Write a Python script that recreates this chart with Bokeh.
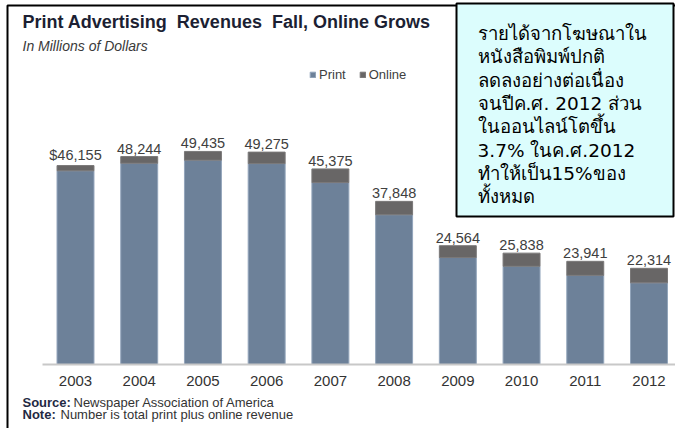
from bokeh.plotting import figure
from bokeh.models import Label, BoxAnnotation, ColumnDataSource, Range1d
from bokeh.core.properties import value
from bokeh.embed import file_html
from bokeh.resources import INLINE

# ---- data ----
years = [2003, 2004, 2005, 2006, 2007, 2008, 2009, 2010, 2011, 2012]
year_labels = [str(y) for y in years]
print_rev = [44939, 46703, 47408, 46611, 42209, 34740, 24821, 22795, 20692, 18944]
online_rev = [1216, 1541, 2027, 2664, 3166, 3108, 2743, 3043, 3249, 3370]
total_labels = [46155, 48244, 49435, 49275, 45375, 37848, 24564, 25838, 23941, 22314]
series = ["Print", "Online"]
title_text = "Print Advertising \u00a0Revenues \u00a0Fall, Online Grows"
subtitle_text = "In Millions of Dollars"
thai_lines = [
    "รายได้จากโฆษณาใน",
    "หนังสือพิมพ์ปกติ",
    "ลดลงอย่างต่อเนื่อง",
    "จนปีค.ศ. 2012 ส่วน",
    "ในออนไลน์โตขึ้น",
    "3.7% ในค.ศ.2012",
    "ทำให้เป็น15%ของ",
    "ทั้งหมด",
]

labels = [("$" if i == 0 else "") + f"{v:,}" for i, v in enumerate(total_labels)]
totals = [p_ + o_ for p_, o_ in zip(print_rev, online_rev)]
src = ColumnDataSource(dict(year=years, Print=print_rev, Online=online_rev,
                            total=totals, label=labels, ylab=year_labels,
                            zero=[0] * len(years)))

W, H = 675, 428
FONT = "Liberation Sans"
THAI = "'DejaVu Sans', sans-serif"

p = figure(width=W, height=H, output_backend="svg", toolbar_location=None,
           x_range=Range1d(2001.823, 2012.416), y_range=Range1d(-14850, 84455),
           min_border=0)
p.outline_line_color = None
p.grid.visible = False
p.axis.visible = False

print_color = "#6d8199"
online_color = "#686666"
p.vbar_stack(series, x="year", width=0.58, source=src,
             fill_color=[print_color, online_color],
             line_color=["#93a5bb", "#7a7878"], line_width=1,
             legend_label=series)

# baseline (at data y = 0)
p.add_layout(BoxAnnotation(left=42, right=760, left_units="screen", right_units="screen",
                           top=0, bottom=0, fill_alpha=0,
                           line_color="#c8c8c8", line_alpha=1, line_width=2))

# value labels
p.text(x="year", y="total", text="label", source=src, text_align="center",
       text_baseline="bottom", y_offset=-3, text_font=value(FONT),
       text_font_size="14.5px", text_color="#404040")

# category labels
p.text(x="year", y="zero", text="ylab", source=src, text_align="center",
       text_baseline="middle", y_offset=17, text_font=value(FONT),
       text_font_size="15px", text_color="#333333")


def sx(px):
    return px


def sy(py):
    return H - py


def lab(text, px, py, size, color, style="normal", font=FONT, align="left"):
    p.add_layout(Label(x=sx(px), y=sy(py), x_units="screen", y_units="screen",
                       text=text, text_font=font, text_font_size=size,
                       text_color=color, text_font_style=style,
                       text_align=align, text_baseline="middle"))


# outer frame lines
p.add_layout(BoxAnnotation(left=sx(7), right=sx(760), top=sy(5), bottom=sy(600),
                           left_units="screen", right_units="screen",
                           top_units="screen", bottom_units="screen",
                           fill_alpha=0, line_color="black", line_alpha=1,
                           line_width=2))

lab(title_text, 22, 21, "18px", "#1c1f33", "bold")
lab(subtitle_text, 22, 45, "14px", "#3a3a3a", "italic")

leg = p.legend[0]
leg.orientation = "horizontal"
leg.location = (309, H - 82)
leg.padding = 0
leg.margin = 0
leg.spacing = 13
leg.glyph_width = 7
leg.glyph_height = 7
leg.label_standoff = 3
leg.label_height = 14
leg.label_text_font = FONT
leg.label_text_font_size = "13px"
leg.label_text_color = "#404040"
leg.background_fill_alpha = 0
leg.border_line_color = None

lab("Source:", 22, 402, "13px", "#1f2a44", "bold")
lab("Newspaper Association of America", 73, 402, "13px", "#333333")
lab("Note:", 22, 414, "13px", "#1f2a44", "bold")
lab("Number is total print plus online revenue", 60, 414, "13px", "#333333")

# Thai note box
p.add_layout(BoxAnnotation(left=sx(456), right=sx(673), top=sy(3), bottom=sy(216),
                           left_units="screen", right_units="screen",
                           top_units="screen", bottom_units="screen",
                           fill_color="#dcfdfd", fill_alpha=1,
                           line_color="black", line_alpha=1, line_width=2))
for i, t in enumerate(thai_lines):
    lab(t, 477, 33 + i * 23.3, "18.5px", "#000000", font=THAI)

open("out.html", "w").write(file_html(p, INLINE))
